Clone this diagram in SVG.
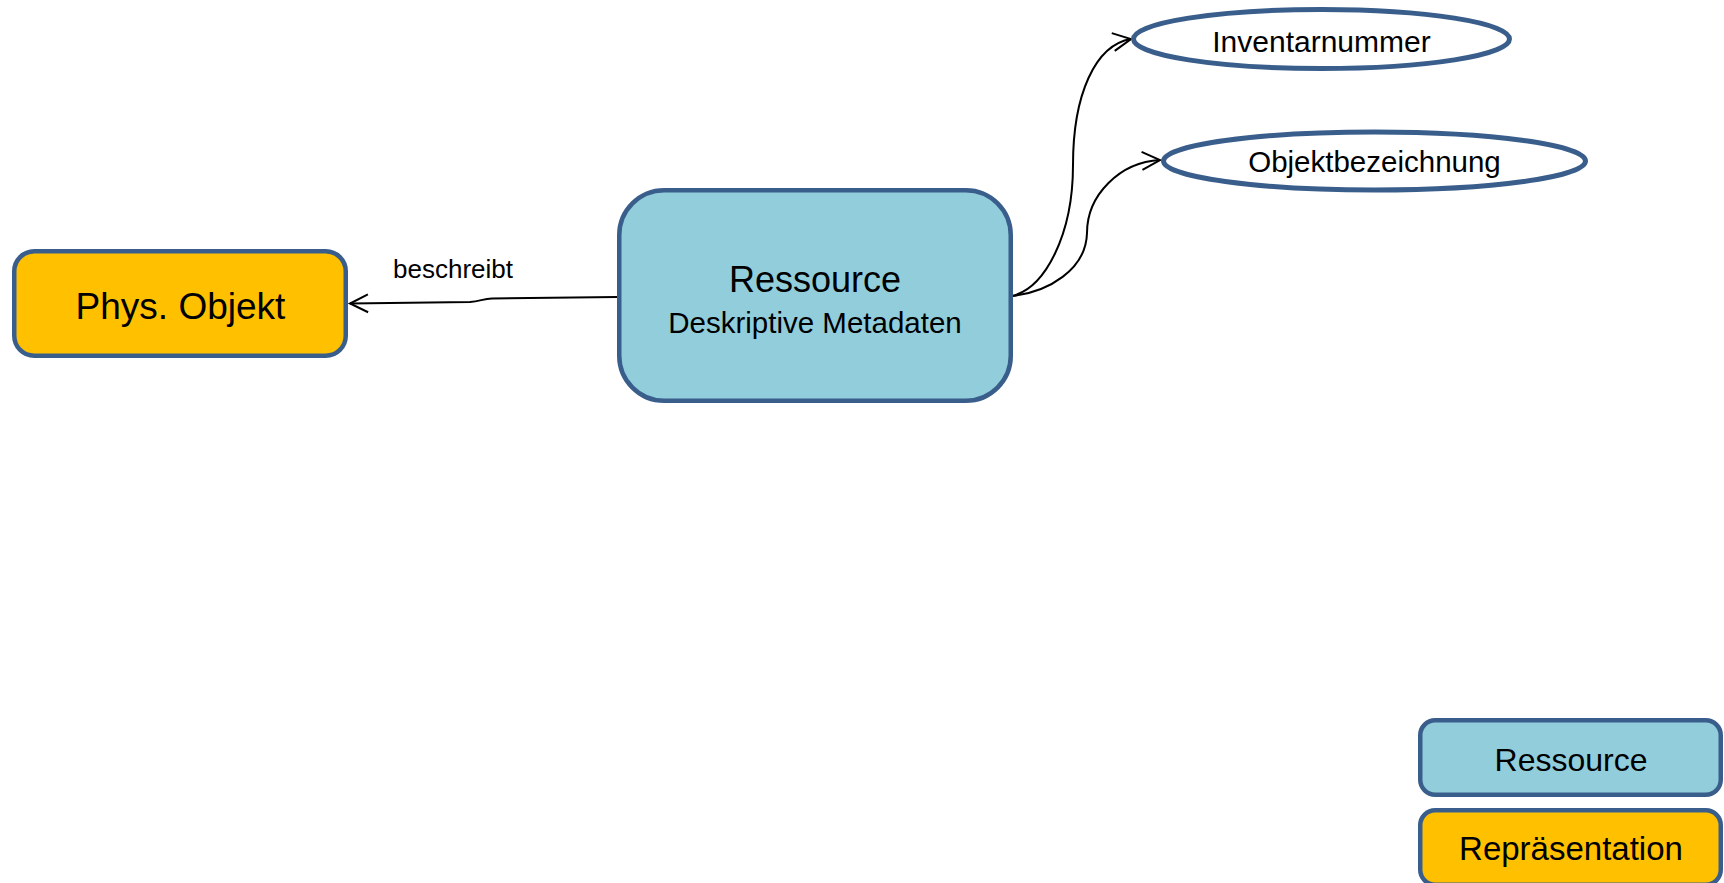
<svg xmlns="http://www.w3.org/2000/svg" width="1724" height="883" viewBox="0 0 1724 883">
<style>
.box{stroke:#3A5E8C;stroke-width:4.5}
.res{fill:#92CDDC}
.rep{fill:#FFC000}
.ell{fill:#FFFFFF;stroke:#3A5E8C;stroke-width:5}
.t{font-family:"Liberation Sans",Arial,sans-serif;fill:#000;text-anchor:middle}
.con{fill:none;stroke:#000;stroke-width:2}
</style>
<defs>
<marker id="arr" markerUnits="userSpaceOnUse" markerWidth="24" markerHeight="24" viewBox="-20 -12 24 24" refX="0" refY="0" orient="auto">
<path d="M-18,-9 L0,0 L-18,9" fill="none" stroke="#000" stroke-width="2"/>
</marker>
</defs>
<rect width="1724" height="883" fill="#FFFFFF"/>
<g id="connectors">
<path class="con" d="M617,297 L492,298.5 C483,298.6 480,301.5 470,302 L350,303.5" marker-end="url(#arr)"/>
<path class="con" d="M1012,296 C1045,288 1073,235 1073,165 C1073,95 1095,45 1131,39" marker-end="url(#arr)"/>
<path class="con" d="M1012,296 C1048,292 1086,270 1087,233 C1087,195 1120,162 1160,160" marker-end="url(#arr)"/>
<text class="t" x="453" y="278" font-size="26">beschreibt</text>
</g>
<g id="phys">
<rect class="box rep" x="14.25" y="251.25" width="331.5" height="104.5" rx="20"/>
<text class="t" x="180.5" y="319" font-size="37">Phys. Objekt</text>
</g>
<g id="ressource">
<rect class="box res" x="619.25" y="190.25" width="391.5" height="210.5" rx="45"/>
<text class="t" x="815" y="292" font-size="36">Ressource</text>
<text class="t" x="815" y="333" font-size="29.5">Deskriptive Metadaten</text>
</g>
<g id="inventarnummer">
<ellipse class="ell" cx="1321.5" cy="39" rx="188" ry="29.5"/>
<text class="t" x="1321.5" y="52" font-size="30">Inventarnummer</text>
</g>
<g id="objektbezeichnung">
<ellipse class="ell" cx="1374.5" cy="161" rx="211" ry="29"/>
<text class="t" x="1374.5" y="172" font-size="29.5">Objektbezeichnung</text>
</g>
<g id="legend-ressource">
<rect class="box res" x="1420.25" y="720.25" width="300.5" height="74.5" rx="15"/>
<text class="t" x="1571" y="771" font-size="32">Ressource</text>
</g>
<g id="legend-repraesentation">
<rect class="box rep" x="1420.25" y="810.25" width="300.5" height="74.5" rx="15"/>
<text class="t" x="1571" y="860" font-size="33">Repräsentation</text>
</g>
</svg>
